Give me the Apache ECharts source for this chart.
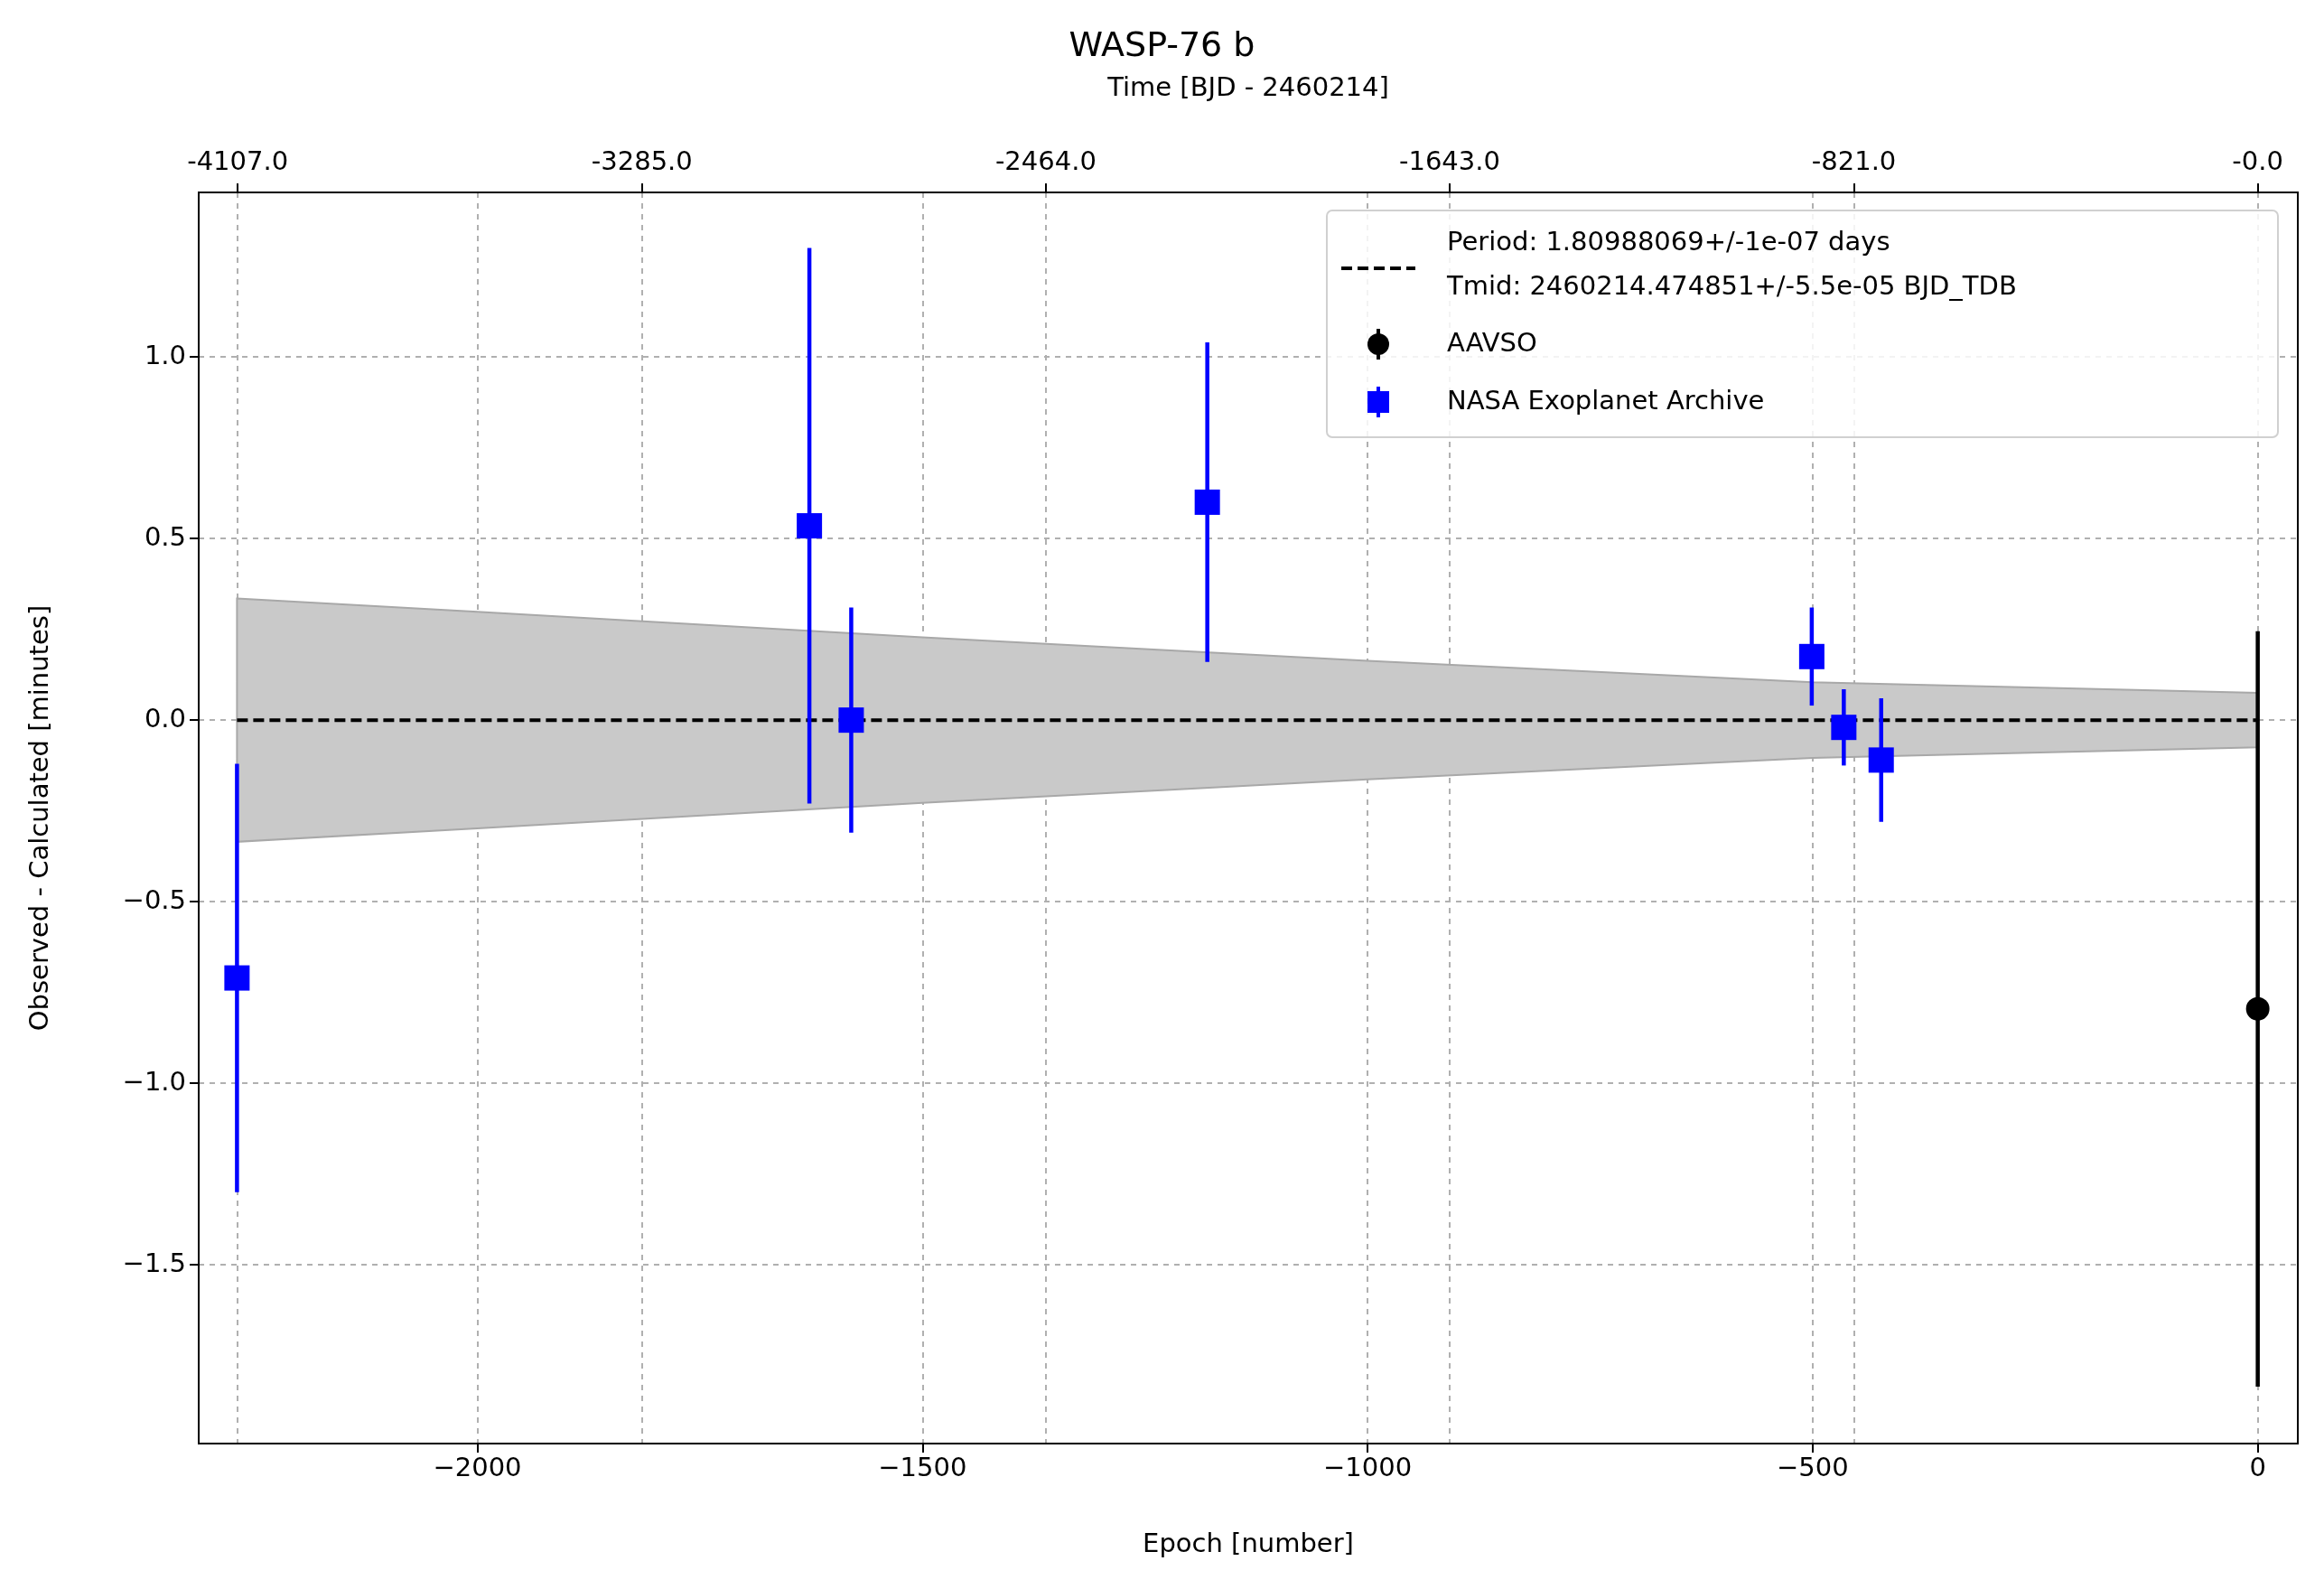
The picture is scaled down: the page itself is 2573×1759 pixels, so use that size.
<!DOCTYPE html>
<html><head><meta charset="utf-8">
<script src="https://cdn.jsdelivr.net/npm/echarts@6/dist/echarts.min.js"></script>
<style>html,body{margin:0;background:#fff}#c{width:2573px;height:1759px}</style>
</head><body><div id="c"></div>
<script>
// NASA Exoplanet Archive points: epoch, O-C (minutes), error
const nasaEpoch = [-2270, -1627, -1580, -1180, -501, -465, -423];
const nasaOC = [-0.71, 0.535, 0.0, 0.60, 0.175, -0.02, -0.11];
const nasaErr = [0.59, 0.765, 0.31, 0.44, 0.135, 0.105, 0.17];
// AAVSO
const aavsoEpoch = [0];
const aavsoOC = [-0.795];
const aavsoErr = [1.04];
// uncertainty band half width
const bandEpoch = [-2270, -2000, -1500, -1000, -500, 0];
const bandHalf = [0.335, 0.298, 0.228, 0.163, 0.104, 0.075];
// top axis ticks (days) and their labels
const period = 1.80988069;
const topTickDays = [-4107, -3285, -2464, -1643, -821, 0];
const topTickLabels = ['-4107.0', '-3285.0', '-2464.0', '-1643.0', '-821.0', '-0.0'];
const topTickEpochs = topTickDays.map(d => d / period);

const font = 'DejaVu Sans';
const fs = 29;
const chart = echarts.init(document.getElementById('c'));

function errBars(ep, oc, er, color) {
  return {
    type: 'custom', z: 5,
    data: ep.map((e, i) => [e, oc[i] - er[i], oc[i] + er[i]]),
    renderItem: (params, api) => {
      const a = api.coord([api.value(0), api.value(1)]);
      const b = api.coord([api.value(0), api.value(2)]);
      return { type: 'line', shape: { x1: a[0], y1: a[1], x2: b[0], y2: b[1] },
        style: { stroke: color, lineWidth: 4.5 } };
    }
  };
}

const axisCommon = {
  axisLine: { onZero: false, lineStyle: { color: '#000', width: 2 } },
  axisTick: { lineStyle: { color: '#000', width: 2 }, length: 10 },
  axisLabel: { color: '#000', fontSize: fs, fontFamily: font, margin: 14 },
  splitLine: { show: true, lineStyle: { color: '#b0b0b0', type: [6, 6], width: 2 } }
};

chart.setOption({
  animation: false,
  title: { text: 'WASP-76 b', left: 'center', top: 28, textStyle: { fontSize: 38, fontWeight: 'normal', fontFamily: font, color: '#000' } },
  grid: { left: 220, right: 29, top: 213, bottom: 161, show: true, borderColor: '#000', borderWidth: 2, backgroundColor: 'transparent' },
  xAxis: [
    Object.assign({}, axisCommon, {
      type: 'value', min: -2313, max: 45, interval: 500, position: 'bottom',
      axisLabel: Object.assign({}, axisCommon.axisLabel, {
        customValues: [-2000, -1500, -1000, -500, 0],
        formatter: v => String(v).replace('-', '\u2212') }),
      axisTick: Object.assign({}, axisCommon.axisTick, { customValues: [-2000, -1500, -1000, -500, 0] }),
      name: 'Epoch [number]', nameLocation: 'middle', nameGap: 98,
      nameTextStyle: { fontSize: fs, fontFamily: font, color: '#000' }
    }),
    Object.assign({}, axisCommon, {
      type: 'value', min: -2313, max: 45, position: 'top',
      axisLabel: Object.assign({}, axisCommon.axisLabel, {
        margin: 18,
        customValues: topTickEpochs,
        formatter: v => {
          let k = 0, best = 1e9;
          topTickEpochs.forEach((t, i) => { if (Math.abs(t - v) < best) { best = Math.abs(t - v); k = i; } });
          return topTickLabels[k];
        } }),
      axisTick: Object.assign({}, axisCommon.axisTick, { customValues: topTickEpochs }),
      name: 'Time [BJD - 2460214]', nameLocation: 'middle', nameGap: 100,
      nameTextStyle: { fontSize: fs, fontFamily: font, color: '#000' }
    })
  ],
  yAxis: Object.assign({}, axisCommon, {
    type: 'value', min: -1.992, max: 1.453,
    axisLabel: Object.assign({}, axisCommon.axisLabel, {
      customValues: [-1.5, -1.0, -0.5, 0.0, 0.5, 1.0],
      formatter: v => v.toFixed(1).replace('-', '\u2212') }),
    axisTick: Object.assign({}, axisCommon.axisTick, { customValues: [-1.5, -1.0, -0.5, 0.0, 0.5, 1.0] }),
    name: 'Observed - Calculated [minutes]', nameLocation: 'middle', nameGap: 160,
    nameTextStyle: { fontSize: fs, fontFamily: font, color: '#000' }
  }),
  graphic: [
    { type: 'rect', shape: { x: 1469, y: 233, width: 1053, height: 251, r: 6 }, z: 100,
      style: { fill: 'rgba(255,255,255,0.85)', stroke: '#d0d0d0', lineWidth: 2 } },
    { type: 'line', shape: { x1: 1485, y1: 297, x2: 1567, y2: 297 }, z: 101,
      style: { stroke: '#000', lineWidth: 4, lineDash: [12, 6] } },
    { type: 'text', x: 1602, y: 269, z: 101, style: { text: 'Period: 1.80988069+/-1e-07 days', fontSize: fs, fontFamily: font, fill: '#000', textVerticalAlign: 'middle' } },
    { type: 'text', x: 1602, y: 318, z: 101, style: { text: 'Tmid: 2460214.474851+/-5.5e-05 BJD_TDB', fontSize: fs, fontFamily: font, fill: '#000', textVerticalAlign: 'middle' } },
    { type: 'line', shape: { x1: 1526, y1: 364, x2: 1526, y2: 398 }, z: 101, style: { stroke: '#000', lineWidth: 4 } },
    { type: 'circle', shape: { cx: 1526, cy: 381, r: 12 }, z: 101, style: { fill: '#000' } },
    { type: 'text', x: 1602, y: 381, z: 101, style: { text: 'AAVSO', fontSize: fs, fontFamily: font, fill: '#000', textVerticalAlign: 'middle' } },
    { type: 'line', shape: { x1: 1526, y1: 428, x2: 1526, y2: 462 }, z: 101, style: { stroke: '#0000ff', lineWidth: 4 } },
    { type: 'rect', shape: { x: 1514, y: 433, width: 24, height: 24 }, z: 101, style: { fill: '#0000ff' } },
    { type: 'text', x: 1602, y: 445, z: 101, style: { text: 'NASA Exoplanet Archive', fontSize: fs, fontFamily: font, fill: '#000', textVerticalAlign: 'middle' } }
  ],
  series: [
    { type: 'custom', z: 1, data: [0],
      renderItem: (params, api) => {
        const up = bandEpoch.map((e, i) => api.coord([e, bandHalf[i]]));
        const lo = bandEpoch.map((e, i) => api.coord([e, -bandHalf[i]])).reverse();
        return { type: 'polygon', shape: { points: up.concat(lo) },
          style: { fill: '#c9c9c9', stroke: '#a8a8a8', lineWidth: 2 } };
      } },
    { type: 'line', symbol: 'none', z: 3, data: [[-2270, 0], [0, 0]],
      lineStyle: { color: '#000', width: 4, type: [12, 6] } },
    errBars(nasaEpoch, nasaOC, nasaErr, '#0000ff'),
    errBars(aavsoEpoch, aavsoOC, aavsoErr, '#000000'),
    { type: 'scatter', z: 6, symbol: 'rect', symbolSize: 28, itemStyle: { color: '#0000ff', opacity: 1 },
      data: nasaEpoch.map((e, i) => [e, nasaOC[i]]) },
    { type: 'scatter', z: 6, symbol: 'circle', symbolSize: 26, itemStyle: { color: '#000', opacity: 1 },
      data: aavsoEpoch.map((e, i) => [e, aavsoOC[i]]) }
  ]
});
</script></body></html>
